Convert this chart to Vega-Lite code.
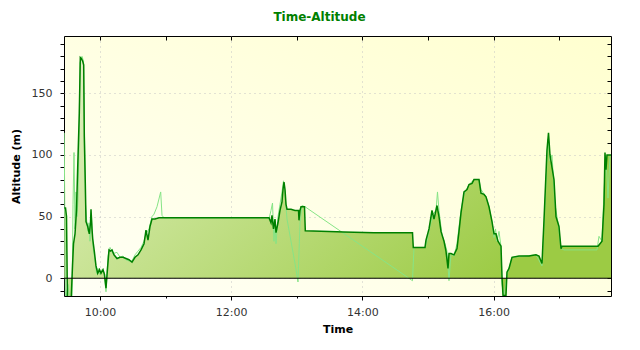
{
  "$schema": "https://vega.github.io/schema/vega-lite/v6.json",
  "width": 547,
  "height": 260,
  "padding": {"left": 10, "top": 10, "right": 28, "bottom": 10},
  "background": "white",
  "title": {"text": "Time-Altitude", "color": "#008000", "font": "DejaVu Sans", "fontSize": 12, "fontWeight": "bold", "anchor": "middle", "dx": -18, "offset": 12},
  "datasets": {
    "track": [
      {"t":"09:27:21","alt":57},{"t":"09:28:27","alt":57},{"t":"09:29:22","alt":50},{"t":"09:30:16","alt":-20},{"t":"09:33:28","alt":-20},{"t":"09:34:51","alt":10},{"t":"09:35:46","alt":28},{"t":"09:37:08","alt":36},{"t":"09:38:30","alt":55},{"t":"09:39:36","alt":90},{"t":"09:41:04","alt":134},{"t":"09:41:59","alt":179},{"t":"09:43:05","alt":178},{"t":"09:44:11","alt":176},{"t":"09:45:05","alt":173},{"t":"09:45:38","alt":115},{"t":"09:46:33","alt":77},{"t":"09:47:12","alt":46},{"t":"09:48:45","alt":42},{"t":"09:50:13","alt":36},{"t":"09:51:19","alt":45},{"t":"09:51:46","alt":56},{"t":"09:52:41","alt":40},{"t":"09:53:19","alt":32},{"t":"09:54:47","alt":22},{"t":"09:56:20","alt":10},{"t":"09:57:54","alt":4},{"t":"09:59:33","alt":7},{"t":"10:00:55","alt":4},{"t":"10:02:45","alt":7},{"t":"10:04:07","alt":3},{"t":"10:05:29","alt":-8},{"t":"10:07:03","alt":10},{"t":"10:08:14","alt":23},{"t":"10:09:36","alt":22},{"t":"10:10:59","alt":23},{"t":"10:12:48","alt":19},{"t":"10:15:33","alt":16},{"t":"10:18:18","alt":17},{"t":"10:21:02","alt":17},{"t":"10:23:47","alt":16},{"t":"10:26:32","alt":15},{"t":"10:29:16","alt":13},{"t":"10:32:01","alt":17},{"t":"10:34:45","alt":19},{"t":"10:37:30","alt":23},{"t":"10:40:15","alt":28},{"t":"10:42:04","alt":39},{"t":"10:43:54","alt":31},{"t":"10:45:44","alt":42},{"t":"10:47:34","alt":48},{"t":"10:50:18","alt":48},{"t":"10:53:58","alt":49},{"t":"10:56:43","alt":49},
      {"t":"12:34:35","alt":49},{"t":"12:36:24","alt":45},{"t":"12:37:19","alt":51},{"t":"12:38:42","alt":40},{"t":"12:40:04","alt":48},{"t":"12:40:59","alt":37},{"t":"12:42:49","alt":45},{"t":"12:44:38","alt":55},{"t":"12:46:28","alt":62},{"t":"12:47:23","alt":72},{"t":"12:48:18","alt":78},{"t":"12:49:13","alt":72},{"t":"12:50:08","alt":60},{"t":"12:51:03","alt":56},{"t":"12:54:42","alt":56},{"t":"12:58:22","alt":55},{"t":"13:01:34","alt":55},{"t":"13:02:01","alt":47},{"t":"13:02:56","alt":55},{"t":"13:03:51","alt":58},{"t":"13:07:03","alt":58},{"t":"13:07:47","alt":38.5},{"t":"13:29:28","alt":38},{"t":"13:43:11","alt":37.5},{"t":"14:10:37","alt":37},{"t":"14:45:50","alt":37},{"t":"14:46:34","alt":25},{"t":"14:57:16","alt":25},{"t":"14:58:11","alt":31},{"t":"15:00:56","alt":40},{"t":"15:03:40","alt":55},{"t":"15:05:30","alt":48},{"t":"15:08:15","alt":59},{"t":"15:10:04","alt":50},{"t":"15:11:54","alt":38},{"t":"15:14:39","alt":30},{"t":"15:16:28","alt":22},{"t":"15:18:18","alt":8},{"t":"15:19:13","alt":20},{"t":"15:21:03","alt":20},{"t":"15:23:48","alt":19},{"t":"15:26:32","alt":24},{"t":"15:28:22","alt":38},{"t":"15:30:12","alt":53},{"t":"15:32:56","alt":70},{"t":"15:35:41","alt":72},{"t":"15:37:31","alt":76},{"t":"15:40:15","alt":77},{"t":"15:42:05","alt":80},{"t":"15:46:40","alt":80},{"t":"15:48:29","alt":69},{"t":"15:51:14","alt":68},{"t":"15:53:04","alt":66},{"t":"15:55:48","alt":58},{"t":"15:58:33","alt":46},{"t":"16:00:23","alt":36},{"t":"16:02:12","alt":36},{"t":"16:04:02","alt":30},{"t":"16:06:47","alt":26},{"t":"16:07:42","alt":1},{"t":"16:08:37","alt":-14},{"t":"16:11:21","alt":-14},{"t":"16:12:16","alt":5},{"t":"16:14:06","alt":8},{"t":"16:16:51","alt":17},{"t":"16:23:15","alt":18},{"t":"16:32:24","alt":18},{"t":"16:38:48","alt":19},{"t":"16:41:32","alt":18},{"t":"16:44:17","alt":12},{"t":"16:46:07","alt":47},{"t":"16:48:51","alt":104},{"t":"16:50:14","alt":118},{"t":"16:51:36","alt":100},{"t":"16:53:26","alt":90},{"t":"16:55:16","alt":80},{"t":"16:57:05","alt":50},{"t":"16:59:50","alt":42},{"t":"17:01:40","alt":24},{"t":"17:02:35","alt":26},{"t":"17:35:30","alt":26},{"t":"17:37:20","alt":28},{"t":"17:39:10","alt":30},{"t":"17:41:00","alt":60},{"t":"17:41:54","alt":102},{"t":"17:42:49","alt":88},{"t":"17:43:44","alt":100},{"t":"17:45:34","alt":100},{"t":"17:47:24","alt":100}
    ],
    "raw": [
      {"tr":"09:27:15","h":118},{"tr":"09:28:27","h":-20},{"tr":"09:30:44","h":-5},{"tr":"09:32:34","h":-20},{"tr":"09:34:23","h":-20},{"tr":"09:35:18","h":60},{"tr":"09:36:13","h":102},{"tr":"09:37:08","h":40},{"tr":"09:38:03","h":70},{"tr":"09:38:58","h":50},{"tr":"09:39:53","h":65},{"tr":"09:40:48","h":110},{"tr":"09:41:42","h":175},{"tr":"09:43:32","h":180},{"tr":"09:44:54","h":176},{"tr":"09:45:49","h":120},{"tr":"09:46:44","h":60},{"tr":"09:47:39","h":48},{"tr":"09:49:01","h":38},{"tr":"09:49:56","h":45},{"tr":"09:50:51","h":30},{"tr":"09:52:14","h":50},{"tr":"09:53:36","h":25},{"tr":"09:55:26","h":15},{"tr":"09:56:48","h":4},{"tr":"09:58:10","h":8},{"tr":"10:00:00","h":3},{"tr":"10:01:50","h":7},{"tr":"10:03:40","h":5},{"tr":"10:05:29","h":-11},{"tr":"10:07:19","h":18},{"tr":"10:09:09","h":25},{"tr":"10:11:53","h":20},{"tr":"10:15:33","h":21},{"tr":"10:18:18","h":17},{"tr":"10:21:02","h":18},{"tr":"10:23:47","h":15},{"tr":"10:26:32","h":14},{"tr":"10:29:16","h":14},{"tr":"10:32:01","h":19},{"tr":"10:34:45","h":22},{"tr":"10:37:30","h":25},{"tr":"10:40:15","h":30},{"tr":"10:42:04","h":36},{"tr":"10:44:49","h":40},{"tr":"10:47:34","h":50},{"tr":"10:49:24","h":52},{"tr":"10:52:08","h":58},{"tr":"10:55:31","h":70},{"tr":"10:56:43","h":51},{"tr":"10:58:32","h":49},
      {"tr":"12:32:45","h":49},{"tr":"12:34:35","h":48},{"tr":"12:36:24","h":55},{"tr":"12:37:47","h":61},{"tr":"12:39:09","h":30},{"tr":"12:40:04","h":45},{"tr":"12:40:59","h":28},{"tr":"12:42:49","h":50},{"tr":"12:44:38","h":60},{"tr":"12:46:28","h":70},{"tr":"12:47:50","h":79},{"tr":"12:49:13","h":68},{"tr":"12:51:03","h":48},{"tr":"12:54:42","h":30},{"tr":"12:58:22","h":12},{"tr":"13:01:06","h":-3},{"tr":"13:02:56","h":45},{"tr":"13:04:46","h":59},{"tr":"13:07:30","h":58},{"tr":"14:45:50","h":-2},{"tr":"14:47:12","h":25},{"tr":"14:57:16","h":25},{"tr":"14:59:06","h":30},{"tr":"15:01:50","h":42},{"tr":"15:04:35","h":52},{"tr":"15:07:20","h":55},{"tr":"15:08:42","h":70},{"tr":"15:10:04","h":55},{"tr":"15:12:49","h":35},{"tr":"15:15:34","h":28},{"tr":"15:17:23","h":22},{"tr":"15:19:13","h":-2},{"tr":"15:21:03","h":20},{"tr":"15:23:48","h":18},{"tr":"15:26:32","h":28},{"tr":"15:30:12","h":55},{"tr":"15:32:56","h":68},{"tr":"15:37:31","h":76},{"tr":"15:42:05","h":80},{"tr":"15:46:40","h":80},{"tr":"15:48:29","h":72},{"tr":"15:53:04","h":66},{"tr":"15:55:48","h":58},{"tr":"15:58:33","h":46},{"tr":"16:00:23","h":33},{"tr":"16:01:45","h":40},{"tr":"16:03:07","h":30},{"tr":"16:04:57","h":38},{"tr":"16:06:47","h":26},{"tr":"16:07:42","h":-5},{"tr":"16:09:32","h":-14},{"tr":"16:12:16","h":3},{"tr":"16:14:06","h":8},{"tr":"16:16:51","h":17},{"tr":"16:38:48","h":19},{"tr":"16:44:17","h":10},{"tr":"16:47:02","h":60},{"tr":"16:49:46","h":113},{"tr":"16:51:36","h":95},{"tr":"16:53:26","h":100},{"tr":"16:56:10","h":60},{"tr":"16:58:55","h":45},{"tr":"17:01:40","h":24},{"tr":"17:04:24","h":23},{"tr":"17:34:35","h":23},{"tr":"17:36:25","h":34},{"tr":"17:39:10","h":30},{"tr":"17:41:00","h":70},{"tr":"17:42:49","h":100},{"tr":"17:44:39","h":65},{"tr":"17:46:29","h":100}
    ],
    "zero": [{"z": 0}]
  },
  "data": {"name": "track", "format": {"parse": {"t": "date:'%H:%M:%S'"}}},
  "layer": [
    {
      "mark": {"type": "area", "clip": true, "fill": {"gradient": "linear", "x1": 0, "y1": 0, "x2": 1, "y2": 0.5, "stops": [{"offset": 0, "color": "#e4f2c6"}, {"offset": 1, "color": "#9ccb44"}]}},
      "encoding": {
        "x": {"field": "t", "type": "temporal",
          "scale": {"domain": [{"year": 1900, "month": 1, "date": 1, "hours": 9, "minutes": 27, "seconds": 4}, {"year": 1900, "month": 1, "date": 1, "hours": 17, "minutes": 47, "seconds": 24}]},
          "axis": {"orient": "bottom", "title": "Time", "format": "%H:%M",
            "values": [{"year": 1900, "month": 1, "date": 1, "hours": 10}, {"year": 1900, "month": 1, "date": 1, "hours": 12}, {"year": 1900, "month": 1, "date": 1, "hours": 14}, {"year": 1900, "month": 1, "date": 1, "hours": 16}],
            "tickSize": 4, "labelPadding": 6, "titlePadding": 6, "grid": true, "gridDash": [1, 4], "gridColor": "#c4c4c4"}},
        "y": {"field": "alt", "type": "quantitative",
          "scale": {"domain": [-14.4, 196.5], "nice": false},
          "axis": {"orient": "left", "title": "Altitude (m)", "values": [0, 50, 100, 150],
            "tickSize": 4, "labelPadding": 8, "titlePadding": 10, "grid": true, "gridDash": [1, 4], "gridColor": "#c4c4c4"}},
        "y2": {"datum": 0}
      }
    },
    {
      "data": {"name": "raw", "format": {"parse": {"tr": "date:'%H:%M:%S'"}}},
      "mark": {"type": "line", "clip": true, "color": "#86e486", "strokeWidth": 1},
      "encoding": {
        "x": {"field": "tr", "type": "temporal",
          "axis": {"orient": "bottom", "title": null, "labels": false, "grid": false, "tickSize": 2,
            "values": [{"year": 1900, "month": 1, "date": 1, "hours": 11}, {"year": 1900, "month": 1, "date": 1, "hours": 13}, {"year": 1900, "month": 1, "date": 1, "hours": 15}, {"year": 1900, "month": 1, "date": 1, "hours": 17}]}},
        "y": {"field": "h", "type": "quantitative",
          "axis": {"orient": "left", "title": null, "labels": false, "grid": false, "tickSize": 4,
            "values": [-10, 10, 20, 30, 40, 60, 70, 80, 90, 110, 120, 130, 140, 160, 170, 180, 190]}}
      }
    },
    {
      "mark": {"type": "line", "clip": true, "color": "#008000", "strokeWidth": 1.5},
      "encoding": {
        "x": {"field": "t", "type": "temporal",
          "axis": {"orient": "top", "title": null, "labels": false, "grid": false, "tickSize": 4, "offset": -4,
            "values": [{"year": 1900, "month": 1, "date": 1, "hours": 10}, {"year": 1900, "month": 1, "date": 1, "hours": 11}, {"year": 1900, "month": 1, "date": 1, "hours": 12}, {"year": 1900, "month": 1, "date": 1, "hours": 13}, {"year": 1900, "month": 1, "date": 1, "hours": 14}, {"year": 1900, "month": 1, "date": 1, "hours": 15}, {"year": 1900, "month": 1, "date": 1, "hours": 16}, {"year": 1900, "month": 1, "date": 1, "hours": 17}]}},
        "y": {"field": "alt", "type": "quantitative",
          "axis": {"orient": "right", "title": null, "labels": false, "grid": false, "tickSize": 4, "offset": -4,
            "values": [-10, 0, 10, 20, 30, 40, 50, 60, 70, 80, 90, 100, 110, 120, 130, 140, 150, 160, 170, 180, 190]}}
      }
    },
    {
      "data": {"name": "zero"},
      "mark": {"type": "rule", "color": "black", "strokeWidth": 1},
      "encoding": {"y": {"field": "z", "type": "quantitative", "axis": null}}
    }
  ],
  "resolve": {"axis": {"x": "independent", "y": "independent"}},
  "config": {
    "view": {"stroke": "black", "strokeWidth": 1, "fill": {"gradient": "linear", "x1": 0, "y1": 1, "x2": 1, "y2": 0, "stops": [{"offset": 0, "color": "#fffff6"}, {"offset": 1, "color": "#ffffcf"}]}},
    "axis": {"labelFont": "DejaVu Sans", "labelFontSize": 11, "labelColor": "#333333", "titleFont": "DejaVu Sans", "titleFontSize": 11, "titleFontWeight": "bold", "titleColor": "#000000", "tickColor": "#000000", "domain": false}
  }
}
